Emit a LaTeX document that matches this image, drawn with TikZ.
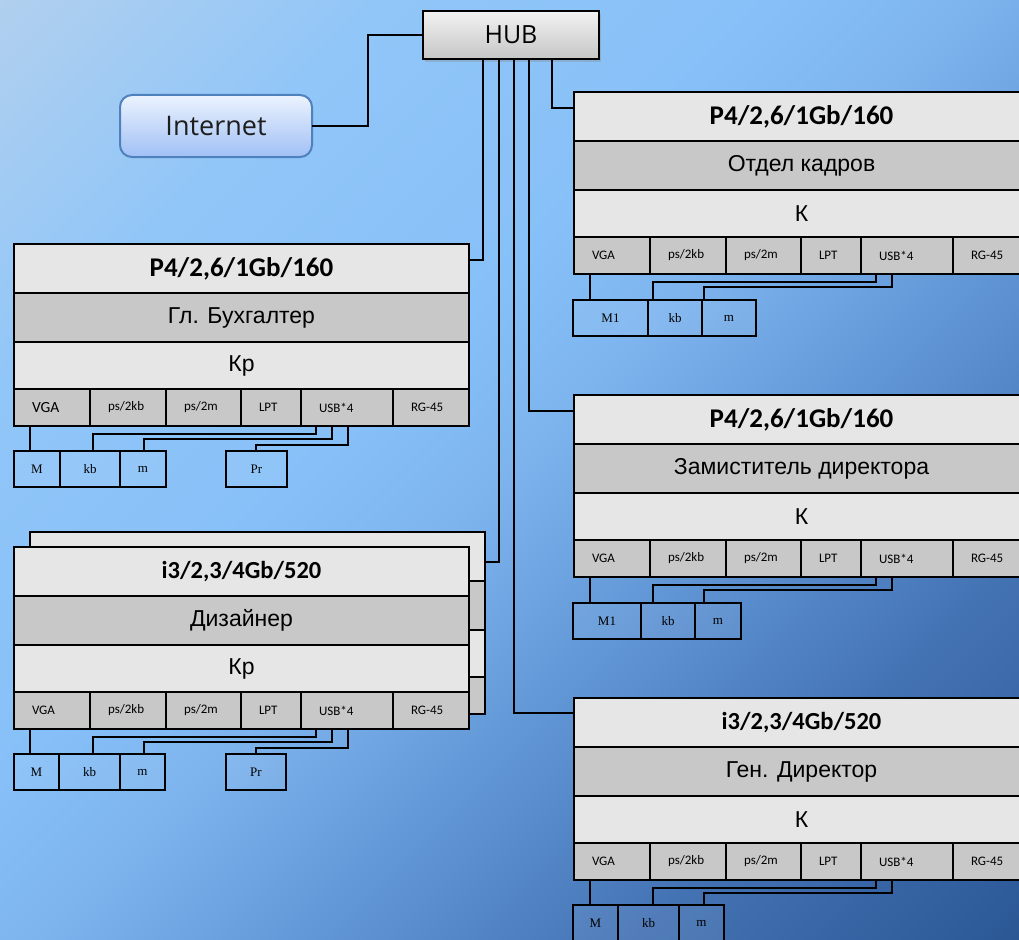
\documentclass[tikz,border=0pt]{standalone}
\usepackage{fontspec}
\newfontfamily\calfont{Carlito}
\newfontfamily\arialfont{Liberation Sans}
\newfontfamily\timesfont{Liberation Serif}
\newfontfamily\osfont{Open Sans}
\usetikzlibrary{calc,shadows}

\definecolor{g0}{RGB}{178,208,238}
\definecolor{g1}{RGB}{145,198,248}
\definecolor{g2}{RGB}{135,192,248}
\definecolor{g3}{RGB}{125,180,238}
\definecolor{g4}{RGB}{95,148,212}
\definecolor{g5}{RGB}{68,115,180}
\definecolor{g6}{RGB}{42,86,148}
\definecolor{rowlight}{RGB}{230,230,230}
\definecolor{rowgray}{RGB}{200,200,200}
\definecolor{inetborder}{RGB}{79,129,189}
\definecolor{inettop}{RGB}{236,243,254}
\definecolor{inetbot}{RGB}{160,192,245}
\definecolor{hubtop}{RGB}{242,242,242}
\definecolor{hubbot}{RGB}{198,198,198}
\definecolor{inettext}{RGB}{30,30,30}

\pgfdeclareverticalshading{bgsh}{100bp}{color(0bp)=(g6); color(25bp)=(g6); color(35bp)=(g5); color(42.5bp)=(g4); color(50bp)=(g3); color(55bp)=(g2); color(65bp)=(g1); color(75bp)=(g0); color(100bp)=(g0)}

\tikzset{
  cell/.style={draw=black, line width=2.8pt, inner sep=0pt, outer sep=0pt, anchor=north west, minimum width=455pt},
  titlerow/.style={cell, fill=rowlight, minimum height=49pt},
  rolerow/.style={cell, fill=rowgray, minimum height=49pt, font=\arialfont\fontsize{23}{23}\selectfont},
  kindrow/.style={cell, fill=rowlight, minimum height=47pt, font=\arialfont\fontsize{23}{23}\selectfont},
  portcell/.style={cell, fill=rowgray, minimum height=37pt, inner xsep=18pt, align=left, font=\calfont\fontsize{13}{13}\selectfont},
  periph/.style={draw=black, line width=2.6pt, inner sep=0pt, outer sep=0pt, anchor=north west, minimum height=36pt, fill=white, fill opacity=0.07, text opacity=1, font=\timesfont\fontsize{13}{13}\selectfont},
  wire/.style={draw=black, line width=2pt},
}

% block: name, x, y, title, role, kind, VGA font size, title font size
\newcommand\pcblock[8]{%
  \node[titlerow, font=\calfont\bfseries\fontsize{#8}{#8}\selectfont] (#1-t) at (#2,#3) {#4};
  \node[rolerow] (#1-r) at (#1-t.south west) {#5};
  \node[kindrow] (#1-k) at (#1-r.south west) {#6};
  \node[portcell, minimum width=76pt, text width=40pt, font=\calfont\fontsize{#7}{#7}\selectfont] (#1-vga) at (#1-k.south west) {VGA};
  \node[portcell, minimum width=76pt, text width=40pt] (#1-kbp) at (#1-vga.north east) {ps/2kb};
  \node[portcell, minimum width=75pt, text width=39pt] (#1-mp) at (#1-kbp.north east) {ps/2m};
  \node[portcell, minimum width=60pt, text width=24pt] (#1-lpt) at (#1-mp.north east) {LPT};
  \node[portcell, minimum width=92pt, text width=56pt] (#1-usb) at (#1-lpt.north east) {USB*4};
  \node[portcell, minimum width=76pt, text width=40pt] (#1-rg) at (#1-usb.north east) {RG-45};
}

% wires from ports to M, kb, m
\newcommand\pcwires[1]{%
  \coordinate (#1-a) at ($(#1-vga.south west)+(15.5,0)$);
  \draw[wire] (#1-a) -- (#1-a |- #1-M.north);
  \coordinate (#1-u1) at ($(#1-usb.south west)+(15,0)$);
  \coordinate (#1-x1) at ($(#1-vga.south west)+(79,0)$);
  \draw[wire] (#1-u1) -- ++(0,7.5) -| (#1-x1 |- #1-kb.north);
  \coordinate (#1-u2) at ($(#1-usb.south west)+(30.5,0)$);
  \coordinate (#1-x2) at ($(#1-vga.south west)+(129.5,0)$);
  \draw[wire] (#1-u2) -- ++(0,13) -| (#1-x2 |- #1-m.north);
}
\newcommand\prwire[1]{%
  \coordinate (#1-u3) at ($(#1-usb.south west)+(47,0)$);
  \coordinate (#1-x3) at ($(#1-vga.south west)+(242,0)$);
  \draw[wire] (#1-u3) -- ++(0,19) -| (#1-x3 |- #1-Pr.north);
}

\begin{document}
\begin{tikzpicture}[x=1pt, y=-1pt]
\useasboundingbox (0,0) rectangle (1019,939);
\clip (0,0) rectangle (1019,939);

% background
\begin{scope}[transform canvas={rotate around={45:(509.5,469.5)}}]
  \shade[shading=bgsh] (-190.5,-230.5) rectangle (1209.5,1169.5);
\end{scope}

% hub and internet
\node[draw=black, line width=2.8pt, inner sep=0pt, outer sep=0pt, minimum width=176pt, minimum height=48pt,
      top color=hubtop, bottom color=hubbot,
      drop shadow={shadow xshift=2pt, shadow yshift=-3pt, opacity=0.3},
      font=\osfont\fontsize{25}{25}\selectfont] (hub) at (511,35) {HUB};
\node[draw=inetborder, line width=2pt, rounded corners=12pt, inner sep=0pt, outer sep=0pt,
      minimum width=192pt, minimum height=62pt, top color=inettop, bottom color=inetbot,
      text=inettext, font=\osfont\fontsize{27}{27}\selectfont] (inet) at (216,126) {Internet};

% back copy of the designer block (hidden rows)
\node[titlerow] (dz2-t) at (30,532) {};
\node[rolerow] (dz2-r) at (dz2-t.south west) {};
\node[kindrow] (dz2-k) at (dz2-r.south west) {};
\node[portcell, minimum width=455pt, text width=419pt] (dz2-p) at (dz2-k.south west) {};

% blocks
\pcblock{bk}{14}{244}{P4/2,6/1Gb/160}{Гл. Бухгалтер}{Кр}{15.5}{27}
\pcblock{dz}{14}{547}{i3/2,3/4Gb/520}{Дизайнер}{Кр}{13}{24.5}
\pcblock{ok}{574}{92}{P4/2,6/1Gb/160}{Отдел кадров}{К}{13}{27}
\pcblock{zd}{574}{395}{P4/2,6/1Gb/160}{Замиститель директора}{К}{13}{27}
\pcblock{gd}{574}{698}{i3/2,3/4Gb/520}{Ген. Директор}{К}{13}{24.5}

% hub wires
\draw[wire] (inet.east) -- ++(56,0) |- (hub.west);
\draw[wire] ([xshift=60.3pt]hub.south west) |- ([yshift=-16pt]bk-t.north east);
\draw[wire] ([xshift=75.7pt]hub.south west) |- ([yshift=-30pt]dz2-t.north east);
\draw[wire] ([xshift=90.7pt]hub.south west) |- ([yshift=-15pt]gd-t.north west);
\draw[wire] ([xshift=106pt]hub.south west) |- ([yshift=-16pt]zd-t.north west);
\draw[wire] ([xshift=129pt]hub.south west) |- ([yshift=-16pt]ok-t.north west);

% peripherals
\node[periph, minimum width=46pt] (bk-M) at (14,451) {M};
\node[periph, minimum width=60pt] (bk-kb) at (bk-M.north east) {kb};
\node[periph, minimum width=46pt] (bk-m) at (bk-kb.north east) {m};
\node[periph, minimum width=61pt] (bk-Pr) at (226,451) {Pr};

\node[periph, minimum width=45pt] (dz-M) at (14,754) {M};
\node[periph, minimum width=61pt] (dz-kb) at (dz-M.north east) {kb};
\node[periph, minimum width=45pt] (dz-m) at (dz-kb.north east) {m};
\node[periph, minimum width=60pt] (dz-Pr) at (226,754) {Pr};

\node[periph, minimum width=75pt] (ok-M) at (573,300) {M1};
\node[periph, minimum width=54pt] (ok-kb) at (ok-M.north east) {kb};
\node[periph, minimum width=54pt] (ok-m) at (ok-kb.north east) {m};

\node[periph, minimum width=68pt] (zd-M) at (573,603) {M1};
\node[periph, minimum width=54pt] (zd-kb) at (zd-M.north east) {kb};
\node[periph, minimum width=46pt] (zd-m) at (zd-kb.north east) {m};

\node[periph, minimum width=45pt] (gd-M) at (573,905) {M};
\node[periph, minimum width=61pt] (gd-kb) at (gd-M.north east) {kb};
\node[periph, minimum width=45pt] (gd-m) at (gd-kb.north east) {m};

% port wires
\pcwires{bk}\prwire{bk}
\pcwires{dz}\prwire{dz}
\pcwires{ok}
\pcwires{zd}
\pcwires{gd}
\end{tikzpicture}
\end{document}
